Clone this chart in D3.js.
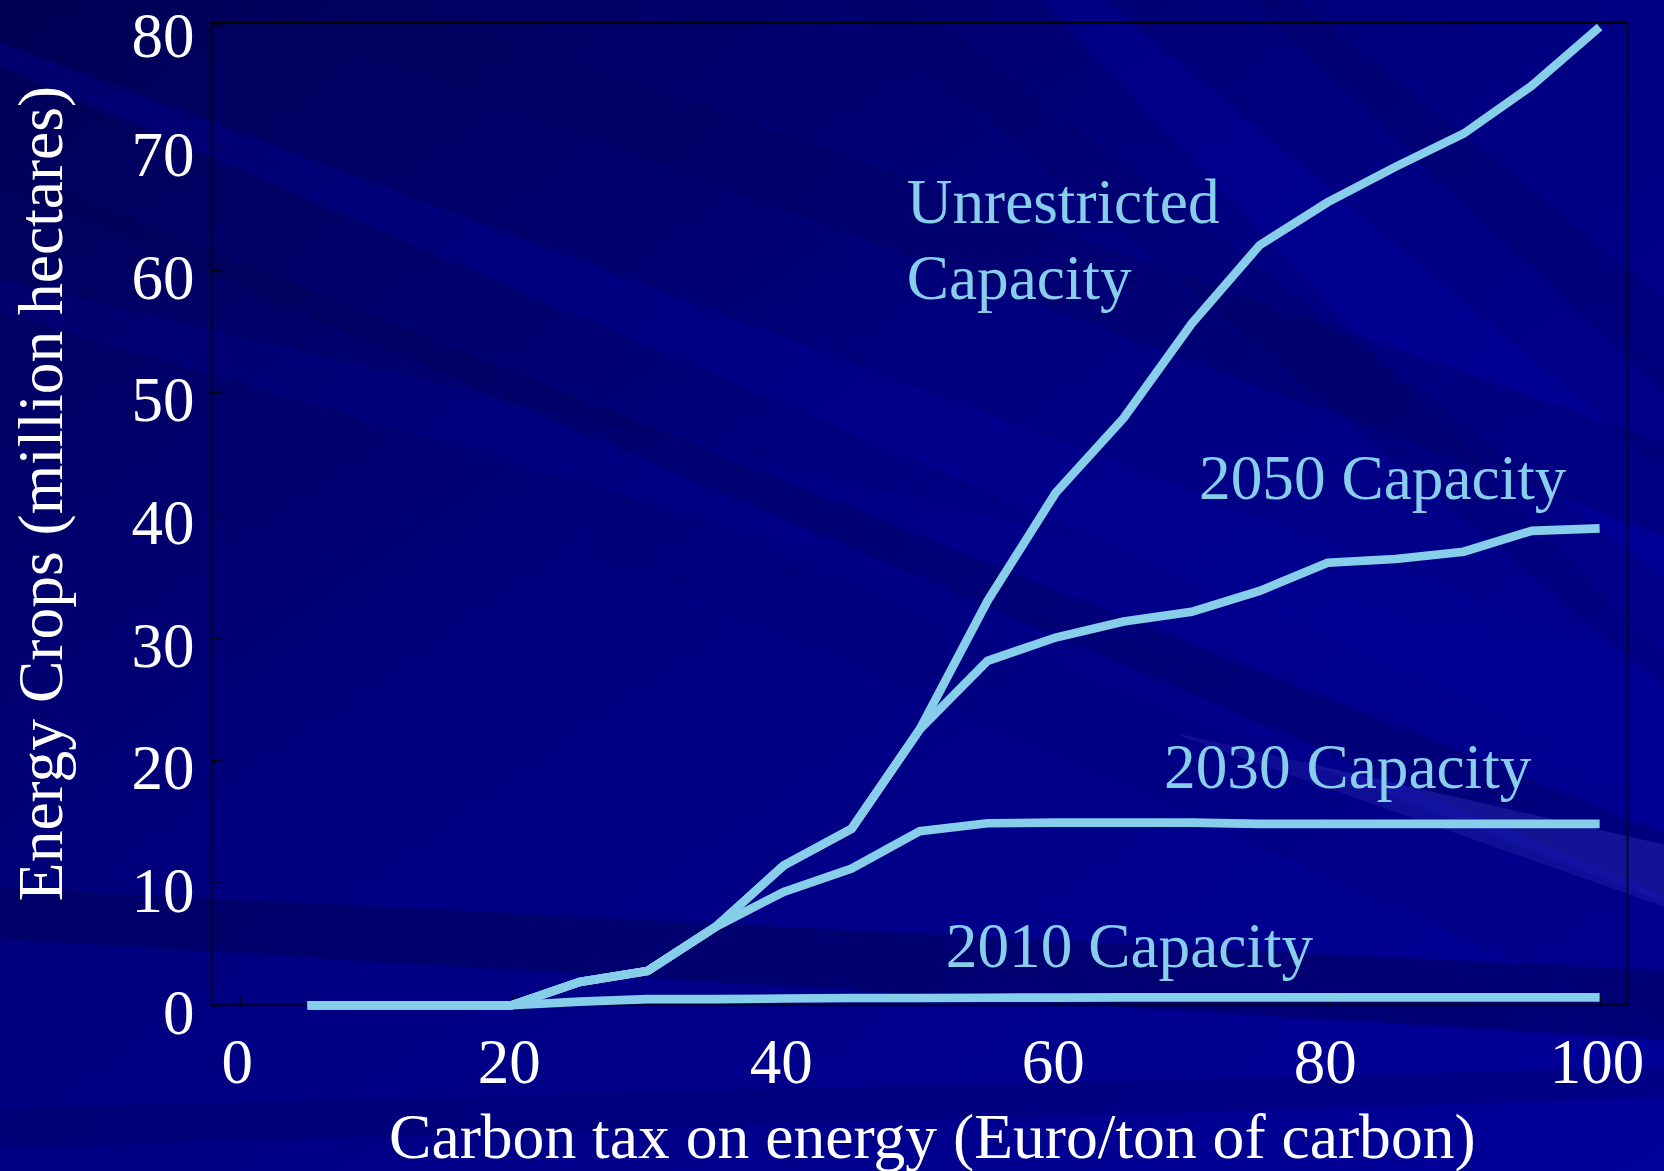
<!DOCTYPE html>
<html>
<head>
<meta charset="utf-8">
<script src="https://cdn.jsdelivr.net/npm/d3@7"></script>
<style>
  html, body { margin: 0; padding: 0; background: #000080; }
  svg { display: block; }
</style>
</head>
<body>
<svg id="chart" width="1664" height="1171"></svg>
<script>
// ---------------- data ----------------
const carbonTax = [5, 10, 15, 20, 25, 30, 35, 40, 45, 50, 55, 60, 65, 70, 75, 80, 85, 90, 95, 100];
const unrestricted = [0, 0, 0, 0, 1.9, 2.8, 6.4, 11.4, 14.4, 22.5, 33.0, 41.8, 47.9, 55.6, 62.0, 65.5, 68.4, 71.1, 75.0, 79.8];
const capacity2050 = [0, 0, 0, 0, 1.9, 2.8, 6.4, 11.4, 14.4, 22.5, 28.1, 30.0, 31.3, 32.1, 33.8, 36.1, 36.4, 37.0, 38.7, 38.9];
const capacity2030 = [0, 0, 0, 0, 1.9, 2.8, 6.4, 9.25, 11.15, 14.2, 14.85, 14.9, 14.9, 14.9, 14.8, 14.8, 14.8, 14.8, 14.8, 14.8];
const capacity2010 = [0, 0, 0, 0, 0.3, 0.5, 0.5, 0.55, 0.6, 0.6, 0.62, 0.63, 0.65, 0.65, 0.65, 0.65, 0.65, 0.65, 0.65, 0.65];
const xTicks = [0, 20, 40, 60, 80, 100];
const yTicks = [0, 10, 20, 30, 40, 50, 60, 70, 80];
const seriesNames = ["Unrestricted Capacity", "2050 Capacity", "2030 Capacity", "2010 Capacity"];
const xTitle = "Carbon tax on energy (Euro/ton of carbon)";
const yTitle = "Energy Crops (million hectares)";

// ---------------- setup ----------------
const W = 1664, H = 1171;
const svg = d3.select("#chart");
const FONT = "'Liberation Serif', 'Times New Roman', serif";
const lineColor = "#87CEEB";

// background
const defs = svg.append("defs");
const bg = defs.append("linearGradient").attr("id", "bg")
  .attr("x1", "0").attr("y1", "0").attr("x2", "1").attr("y2", "1");
bg.append("stop").attr("offset", "0%").attr("stop-color", "#000055");
bg.append("stop").attr("offset", "45%").attr("stop-color", "#000080");
bg.append("stop").attr("offset", "100%").attr("stop-color", "#00009a");
svg.append("rect").attr("width", W).attr("height", H).attr("fill", "url(#bg)");

// decorative streaks (background template), each spanning beyond the canvas
const streaks = [
  // [x1,y1,w1,x2,y2,w2,color,opacity]
  [-60, 30, 20, 1750, 760, 110, "#00009c", 0.35],
  [-60, 280, 30, 1750, 760, 120, "#000098", 0.25],
  [-60, 150, 15, 1750, 900, 60, "#000050", 0.3],
  [-60, 910, 50, 1750, 1010, 70, "#000052", 0.45],
  [-60, 1130, 40, 1750, 1080, 30, "#000060", 0.3],
  [1180, 735, 2, 1750, 900, 70, "#3a3ac8", 0.32],
  [1050, -20, 40, 1750, 640, 150, "#0000b0", 0.28],
  [1250, -20, 30, 1750, 420, 80, "#000060", 0.3],
  [850, -20, 40, 1750, 700, 90, "#000060", 0.25],
  [250, -20, 60, 1750, 520, 90, "#000058", 0.3],
  [600, 520, 60, 1750, 1000, 120, "#000070", 0.22]
];
const streakG = svg.append("g");
streaks.forEach(s => {
  const [x1, y1, w1, x2, y2, w2, c, o] = s;
  const dx = x2 - x1, dy = y2 - y1, L = Math.hypot(dx, dy);
  const nx = -dy / L, ny = dx / L;
  const pts = [
    [x1 + nx * w1 / 2, y1 + ny * w1 / 2],
    [x2 + nx * w2 / 2, y2 + ny * w2 / 2],
    [x2 - nx * w2 / 2, y2 - ny * w2 / 2],
    [x1 - nx * w1 / 2, y1 - ny * w1 / 2]
  ];
  streakG.append("polygon").attr("points", pts.map(p => p.join(",")).join(" "))
    .attr("fill", c).attr("opacity", o);
});

// ---------------- scales ----------------
const plot = { left: 211.5, right: 1627.5, top: 22.7, bottom: 1005.3 };
const x = d3.scaleLinear().domain([-2.07, 102.05]).range([plot.left, plot.right]);
const y = d3.scaleLinear().domain([0, 80.15]).range([plot.bottom, plot.top]);

// ---------------- axes ----------------
const xAxis = d3.axisBottom(x).tickValues(xTicks).tickSizeInner(-9).tickSizeOuter(0).tickPadding(0);
const yAxis = d3.axisLeft(y).tickValues(yTicks).tickSizeInner(-10.5).tickSizeOuter(0).tickPadding(17);

const gx = svg.append("g").attr("transform", `translate(0,${plot.bottom})`).call(xAxis);
gx.select(".domain").remove();
gx.selectAll(".tick line").attr("stroke", "#000").attr("stroke-width", 1.3);
gx.selectAll(".tick text")
  .attr("fill", "#fff").attr("font-family", FONT).attr("font-size", 63)
  .attr("y", 77.4).attr("dy", 0).attr("dx", -3);

const gy = svg.append("g").attr("transform", `translate(${plot.left},0)`).call(yAxis);
gy.select(".domain").remove();
gy.selectAll(".tick line").attr("stroke", "#000").attr("stroke-width", 1.3);
gy.selectAll(".tick text")
  .attr("fill", "#fff").attr("font-family", FONT).attr("font-size", 63)
  .attr("dy", d => d === 80 ? 31.5 : 28.5);

// frame
svg.append("rect")
  .attr("x", plot.left).attr("y", plot.top)
  .attr("width", plot.right - plot.left).attr("height", plot.bottom - plot.top)
  .attr("fill", "none").attr("stroke", "#000").attr("stroke-width", 1.6);

// ---------------- lines ----------------
const allSeries = [capacity2010, capacity2030, capacity2050, unrestricted];
const line = d3.line().x((d, i) => x(carbonTax[i])).y(d => y(d));
svg.append("g").selectAll("path").data(allSeries).join("path")
  .attr("d", d => line(d))
  .attr("fill", "none")
  .attr("stroke", lineColor)
  .attr("stroke-width", 8.6)
  .attr("stroke-linejoin", "miter");

// ---------------- series labels ----------------
const labelG = svg.append("g").attr("font-family", FONT).attr("font-size", 63.3).attr("fill", lineColor);
const ul = labelG.append("text").attr("x", 906.7).attr("y", 222.7);
ul.append("tspan").attr("x", 906.7).text("Unrestricted");
ul.append("tspan").attr("x", 906.7).attr("dy", 76.3).text("Capacity");
labelG.append("text").attr("x", 1199).attr("y", 498.5).text(seriesNames[1]);
labelG.append("text").attr("x", 1164).attr("y", 788.3).text(seriesNames[2]);
labelG.append("text").attr("x", 945.8).attr("y", 966.7).text(seriesNames[3]);

// ---------------- axis titles ----------------
svg.append("text")
  .attr("x", 389).attr("y", 1157.5)
  .attr("font-family", FONT).attr("font-size", 63.6).attr("fill", "#fff")
  .text(xTitle);

svg.append("text")
  .attr("transform", `translate(62,493.5) rotate(-90)`)
  .attr("text-anchor", "middle")
  .attr("font-family", FONT).attr("font-size", 63.5).attr("fill", "#fff")
  .text(yTitle);
</script>
</body>
</html>
